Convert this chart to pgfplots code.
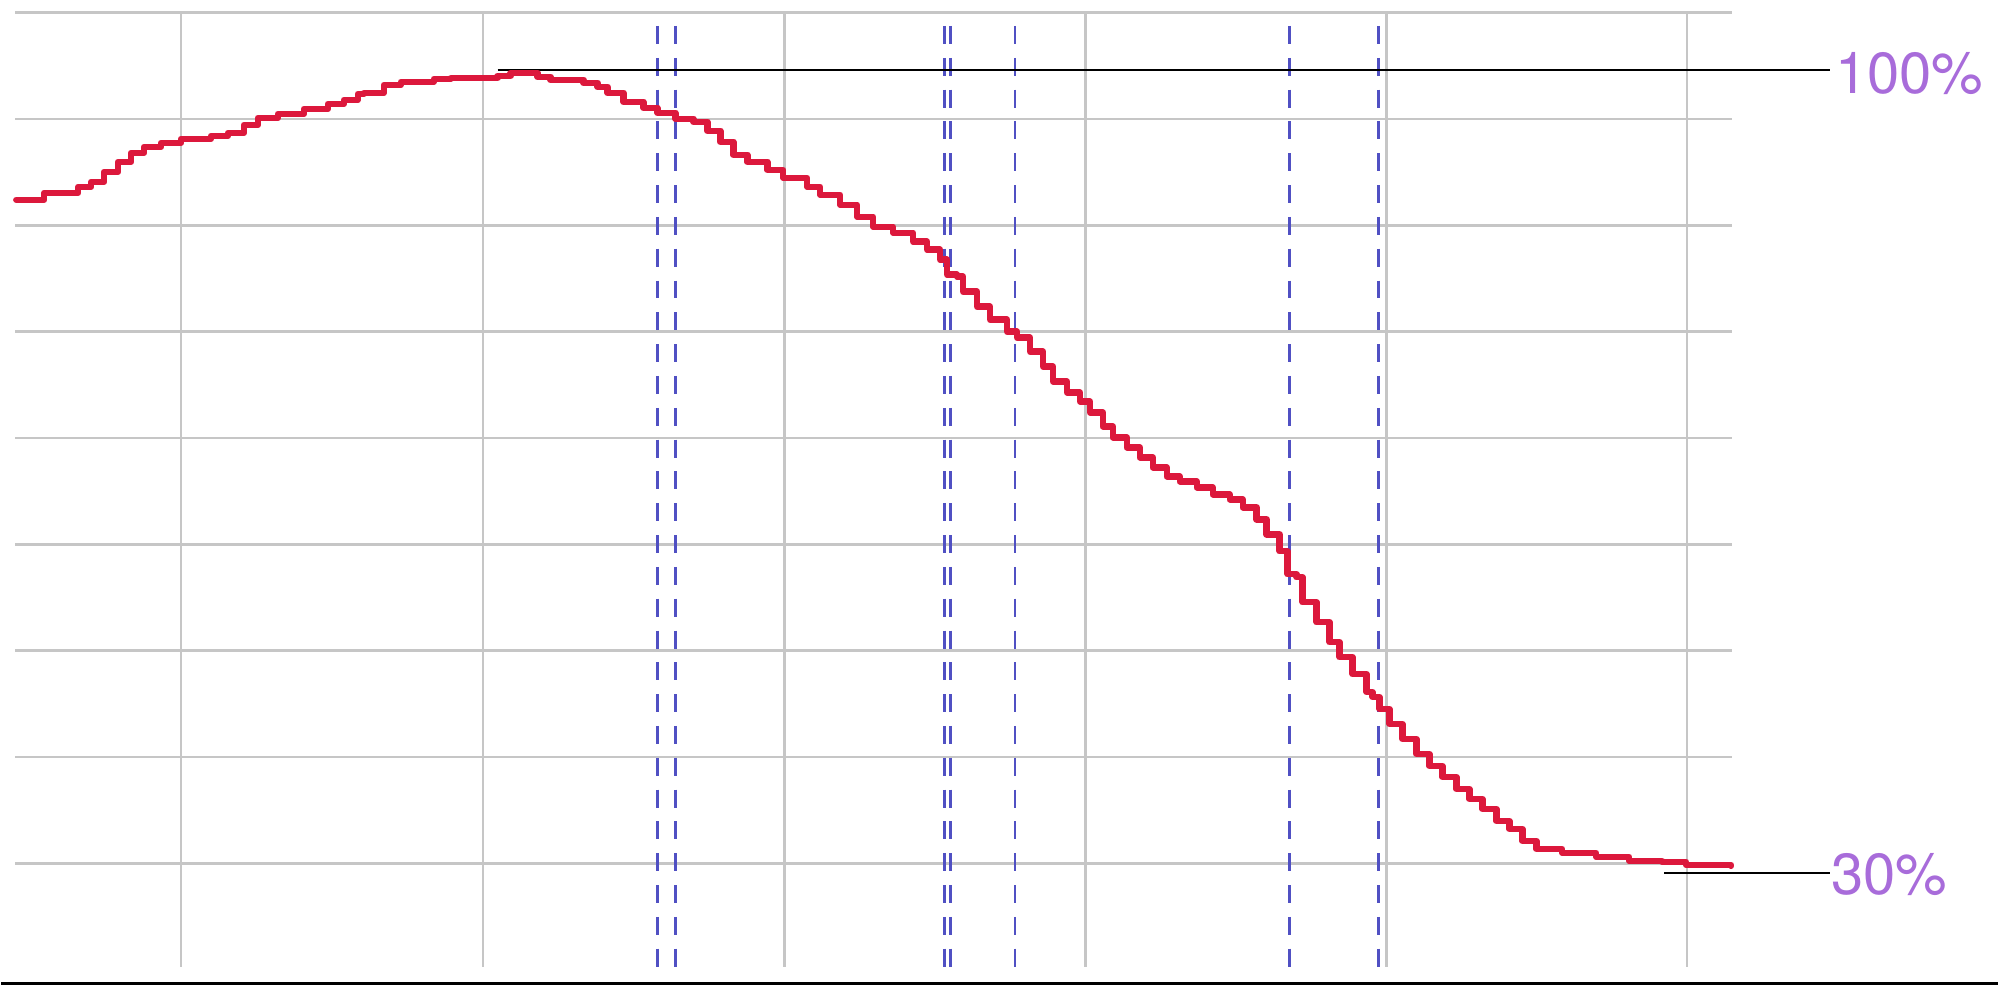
\documentclass[border=0pt]{standalone}
\usepackage{pgfplots}
\pgfplotsset{compat=1.18}
\usepackage{fontspec}
\setmainfont{TeX Gyre Heros}
\definecolor{curvered}{RGB}{220,24,60}
\definecolor{gridgray}{RGB}{198,198,198}
\definecolor{dashblue}{RGB}{80,80,195}
\definecolor{labelpurple}{RGB}{168,108,218}
\begin{document}
\begin{tikzpicture}
\begin{axis}[
  scale only axis, width=859pt, height=477.75pt,
  xmin=15, xmax=1733, ymin=12.5, ymax=968, y dir=reverse,
  hide axis, clip=false,
]
\path (axis cs:0,0) rectangle (axis cs:1999,986);
% grid
\pgfplotsinvokeforeach{180,482.5,784,1085.5,1387,1688}{
  \addplot[gridgray, line width=1.3pt] coordinates {(#1,12.5) (#1,968)};
}
\pgfplotsinvokeforeach{12.5,119,225.5,332,438.5,545,651.5,758,864.5}{
  \addplot[gridgray, line width=1.3pt] coordinates {(14,#1) (1733,#1)};
}
% dashed markers
\pgfplotsinvokeforeach{657,675,944.5,950.5,1015,1290,1379}{
  \addplot[dashblue, line width=1.3pt, dash pattern=on 9pt off 6.93pt] coordinates {(#1,26) (#1,968)};
}
% reference lines
\addplot[black, line width=1pt] coordinates {(497,70.5) (1831,70.5)};
\addplot[black, line width=1pt] coordinates {(1665,874) (1831,874)};
\addplot[black, line width=1.3pt] coordinates {(0,984.5) (1999,984.5)};
% curve
\addplot[curvered, line width=3.2pt, const plot, line join=round, line cap=round] coordinates {
(15,200) (43,193) (77,187) (90,182) (103,172) (117,162) (130,153) (143,147)
(160,143) (180,139) (210,136) (227,133) (243,125) (257,118) (277,114) (303,109)
(327,104) (343,100) (357,94) (363,93) (383,85) (400,82) (433,79) (450,78)
(483,78) (497,76) (510,73) (527,73) (537,77) (550,80) (583,83) (597,87)
(607,93) (623,102) (643,108) (657,113) (675,119) (693,122) (707,131) (720,142)
(733,155) (747,162) (767,170) (783,178) (807,187) (820,195) (840,205) (857,217)
(873,227) (893,233) (913,242) (927,250) (940,260) (947,275) (957,277) (963,292)
(977,307) (990,320) (1007,332) (1017,338) (1030,352) (1043,367) (1053,382) (1067,393)
(1080,402) (1090,413) (1103,427) (1113,438) (1127,448) (1140,458) (1153,468) (1167,477)
(1180,482) (1197,488) (1213,495) (1230,500) (1243,508) (1257,520) (1267,535) (1280,552)
(1288,575) (1297,578) (1303,603) (1317,623) (1330,643) (1340,658) (1353,675) (1367,693)
(1373,698) (1380,710) (1390,725) (1403,740) (1417,755) (1430,767) (1443,778) (1457,790)
(1470,800) (1483,810) (1497,822) (1510,830) (1523,842) (1537,850) (1563,854) (1597,858)
(1630,862) (1663,863) (1687,866) (1732,867)
};
\node[anchor=west, inner sep=0pt, text=labelpurple, font=\fontsize{29}{29}\selectfont] at (axis cs:1836,73.5) {100\%};
\node[anchor=west, inner sep=0pt, text=labelpurple, font=\fontsize{29}{29}\selectfont] at (axis cs:1832,876) {30\%};
\end{axis}
\end{tikzpicture}
\end{document}
